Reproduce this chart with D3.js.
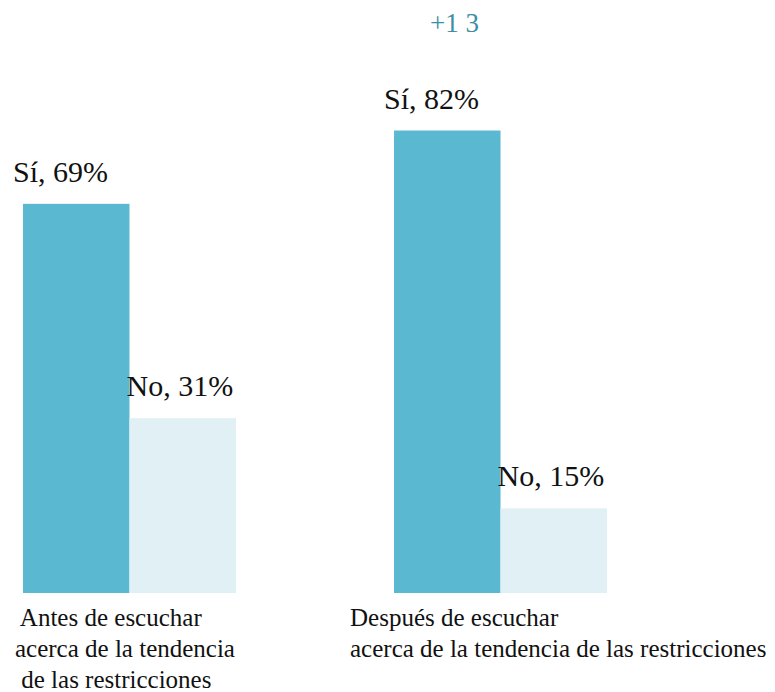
<!DOCTYPE html>
<html>
<head>
<meta charset="utf-8">
<script src="https://cdn.jsdelivr.net/npm/d3@7"></script>
<style>
  body { margin: 0; background: #fff; }
  svg text { font-family: "Liberation Serif", "DejaVu Serif", serif; white-space: pre; }
</style>
</head>
<body>
<div id="chart"></div>
<script>
// groups (before / after), answers, values in percent
var groups = ["antes", "despues"];
var groupLabels = [
  [" Antes de escuchar", "acerca de la tendencia", " de las restricciones"],
  ["Después de escuchar", "acerca de la tendencia de las restricciones"]
];
var answers = ["Sí", "No"];
var valuesSi = [69, 82];
var valuesNo = [31, 15];
var deltaLabel = "+1 3";

var width = 775, height = 692;
var serif = "Liberation Serif, DejaVu Serif, serif";
var colors = { "Sí": "#5bb8d1", "No": "#e0f0f5" };

var svg = d3.select("#chart")
  .append("svg")
    .attr("width", width)
    .attr("height", height);

var x0 = d3.scaleBand()
  .domain(groups)
  .range([23, 607])
  .paddingInner(0.426)
  .paddingOuter(0);

var x1 = d3.scaleBand()
  .domain(answers)
  .range([0, x0.bandwidth()]);

var y = d3.scaleLinear()
  .domain([0, 100])
  .range([593, 29]);

var rows = [];
groups.forEach((g, i) => {
  rows.push({ group: g, answer: "Sí", value: valuesSi[i] });
  rows.push({ group: g, answer: "No", value: valuesNo[i] });
});

svg.append("g")
  .selectAll("rect")
  .data(rows)
  .join("rect")
    .attr("x", d => x0(d.group) + x1(d.answer))
    .attr("y", d => y(d.value))
    .attr("width", x1.bandwidth())
    .attr("height", d => y(0) - y(d.value))
    .attr("fill", d => colors[d.answer]);

// value labels sit a little left of their bar
var labelDx = { "Sí": -10, "No": -3 };
svg.append("g")
  .selectAll("text")
  .data(rows)
  .join("text")
    .attr("x", d => x0(d.group) + x1(d.answer) + labelDx[d.answer])
    .attr("y", d => y(d.value) - 22)
    .attr("font-family", serif)
    .attr("font-size", 30)
    .attr("fill", "#111")
    .text(d => d.answer + ", " + d.value + "%");

// category labels under each group
var catDx = [-8, -44];
groups.forEach((g, i) => {
  var t = svg.append("text")
    .attr("x", x0(g) + catDx[i])
    .attr("y", 626)
    .attr("font-family", serif)
    .attr("font-size", 25)
    .attr("fill", "#111");
  groupLabels[i].forEach((line, k) => {
    t.append("tspan")
      .attr("x", x0(g) + catDx[i])
      .attr("dy", k ? 31 : 0)
      .text(line);
  });
});

svg.append("text")
  .attr("x", 430)
  .attr("y", 32)
  .attr("font-family", serif)
  .attr("font-size", 27)
  .attr("fill", "#3d8fa3")
  .text(deltaLabel);
</script>
</body>
</html>
